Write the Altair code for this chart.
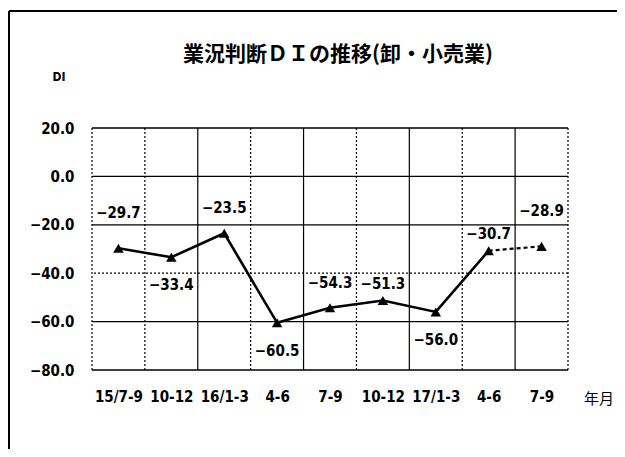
import json
import altair as alt
import pandas as pd

# ---- data ----
periods = ["15/7-9", "10-12", "16/1-3", "4-6", "7-9", "10-12", "17/1-3", "4-6", "7-9"]
di_values = [-29.7, -33.4, -23.5, -60.5, -54.3, -51.3, -56.0, -30.7, -28.9]
y_ticks = [20, 0, -20, -40, -60, -80]
label_place = ["high", "below", "above", "below", "above", "near", "below", "near", "high"]
forecast_from = 7  # dashed segment starts at this index

title_text = "業況判断ＤＩの推移(卸・小売業)"
unit_text = "DI"
x_unit_text = "年月"

# ---- layout / style ----
W, H = 476, 242
NARROW = "DejaVu Sans Condensed"
CJK = "Noto Sans CJK JP"
place_dy = {"high": -35, "above": -25, "near": -17, "below": 28}

df = pd.DataFrame({
    "i": list(range(len(periods))),
    "period": periods,
    "di": di_values,
    "place": label_place,
})

x_scale = alt.Scale(domain=[-0.5, len(periods) - 0.5], nice=False, zero=False)
y_scale = alt.Scale(domain=[-80, 20], nice=False, zero=False)
label_expr = json.dumps(periods, ensure_ascii=False) + "[datum.value]"

x_axis = alt.Axis(values=list(range(len(periods))), labelExpr=label_expr, title=None,
                  grid=False, ticks=False, domain=False, labelPadding=19,
                  labelFont=NARROW, labelFontSize=15, labelFontWeight="bold",
                  labelColor="black", labelAngle=0, labelFlush=False, labelOverlap=False)
y_axis = alt.Axis(values=y_ticks, format=".1f", title=None, grid=False, ticks=False,
                  domain=False, labelPadding=18, labelFont=NARROW, labelFontSize=15,
                  labelFontWeight="bold", labelColor="black")

X_I = alt.X("i:Q", scale=x_scale, axis=x_axis)
Y_DI = alt.Y("di:Q", scale=y_scale, axis=y_axis)

base = alt.Chart(df)

hgrid = alt.Chart(pd.DataFrame({"v": y_ticks})).mark_rule(color="black", strokeWidth=1.3).encode(
    y=alt.Y("v:Q", scale=y_scale, axis=y_axis),
    strokeDash=alt.condition(alt.datum.v == -40, alt.value([2, 2]), alt.value([1, 0])),
)

vgrid = base.transform_calculate(b="datum.i - 0.5").mark_rule(color="black", strokeWidth=1.2).encode(
    x=alt.X("b:Q", scale=x_scale, axis=x_axis),
    strokeDash=alt.condition("datum.i % 2 == 0 && datum.i > 0", alt.value([1, 0]), alt.value([2, 2])),
)

one = pd.DataFrame({"k": [0]})

right_edge = alt.Chart(one).mark_rule(
    color="black", strokeWidth=1.2, strokeDash=[2, 2]
).encode(x=alt.value(W))

solid = base.transform_filter(alt.datum.i <= forecast_from).mark_line(
    color="black", strokeWidth=2.6
).encode(x=X_I, y=Y_DI)

dashed = base.transform_filter(alt.datum.i >= forecast_from).mark_line(
    color="black", strokeWidth=2.2, strokeDash=[4, 3]
).encode(x=X_I, y=Y_DI)

points = base.mark_point(shape="triangle-up", filled=True, color="black", size=110, opacity=1).encode(
    x=X_I, y=Y_DI
)

text_layers = []
for key, dy in place_dy.items():
    text_layers.append(
        base.transform_filter(alt.datum.place == key).mark_text(
            dy=dy, font=NARROW, fontSize=15, fontWeight="bold", color="black"
        ).encode(x=X_I, y=Y_DI, text=alt.Text("di:Q", format=".1f"))
    )

title = alt.Chart(pd.DataFrame({"t": [title_text]})).mark_text(
    font=CJK, fontSize=21, fontWeight="bold", color="black", baseline="middle", align="center"
).encode(x=alt.value(246), y=alt.value(-73), text="t:N")

unit = alt.Chart(pd.DataFrame({"t": [unit_text]})).mark_text(
    font=NARROW, fontSize=12, fontWeight="bold", color="black", baseline="middle", align="center"
).encode(x=alt.value(-33), y=alt.value(-51), text="t:N")

xunit = alt.Chart(pd.DataFrame({"t": [x_unit_text]})).mark_text(
    font=CJK, fontSize=15, color="black", baseline="middle", align="center"
).encode(x=alt.value(507), y=alt.value(271), text="t:N")

frame_top = alt.Chart(one).mark_rule(color="black", strokeWidth=2).encode(
    x=alt.value(-83), x2=alt.value(W + 60), y=alt.value(-117)
)
frame_left = alt.Chart(one).mark_rule(color="black", strokeWidth=2).encode(
    x=alt.value(-83), y=alt.value(-117), y2=alt.value(H + 90)
)

chart = alt.layer(
    hgrid, vgrid, right_edge, solid, dashed, points, *text_layers,
    title, unit, xunit, frame_top, frame_left,
).properties(
    width=W, height=H,
    padding={"left": 84, "top": 120, "right": 49, "bottom": 79},
    autosize=alt.AutoSizeParams(type="none"),
    background="white",
).configure_view(stroke=None)

chart.save("out.html", embed_options={"renderer": "svg", "actions": False})
